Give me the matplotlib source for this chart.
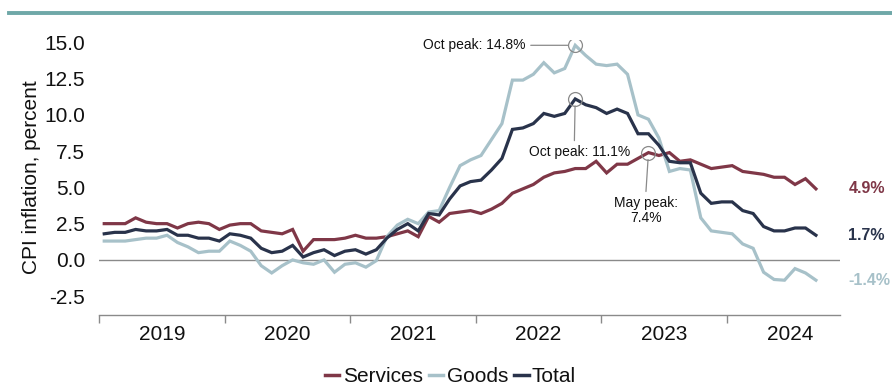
import matplotlib
matplotlib.use("Agg")
import matplotlib.pyplot as plt
from matplotlib import font_manager
from matplotlib.lines import Line2D
import numpy as np

# UK CPI inflation, annual rate (%), monthly Jan 2019 - Sep 2024
services = [
    2.5, 2.5, 2.5, 2.9, 2.6, 2.5, 2.5, 2.2, 2.5, 2.6, 2.5, 2.1,   # 2019
    2.4, 2.5, 2.5, 2.0, 1.9, 1.8, 2.1, 0.6, 1.4, 1.4, 1.4, 1.5,   # 2020
    1.7, 1.5, 1.5, 1.6, 1.8, 2.0, 1.6, 3.0, 2.6, 3.2, 3.3, 3.4,   # 2021
    3.2, 3.5, 3.9, 4.6, 4.9, 5.2, 5.7, 6.0, 6.1, 6.3, 6.3, 6.8,   # 2022
    6.0, 6.6, 6.6, 7.0, 7.4, 7.2, 7.4, 6.8, 6.9, 6.6, 6.3, 6.4,   # 2023
    6.5, 6.1, 6.0, 5.9, 5.7, 5.7, 5.2, 5.6, 4.9,                  # 2024
]
goods = [
    1.3, 1.3, 1.3, 1.4, 1.5, 1.5, 1.7, 1.2, 0.9, 0.5, 0.6, 0.6,
    1.3, 1.0, 0.6, -0.4, -0.9, -0.4, 0.0, -0.2, -0.3, 0.0, -0.85, -0.3,
    -0.2, -0.5, -0.05, 1.6, 2.4, 2.8, 2.5, 3.3, 3.4, 5.0, 6.5, 6.9,
    7.2, 8.3, 9.4, 12.4, 12.4, 12.8, 13.6, 12.9, 13.2, 14.8, 14.1, 13.5,
    13.4, 13.5, 12.8, 10.0, 9.7, 8.4, 6.1, 6.3, 6.2, 2.9, 2.0, 1.9,
    1.8, 1.1, 0.8, -0.85, -1.35, -1.4, -0.6, -0.9, -1.4,
]
total = [
    1.8, 1.9, 1.9, 2.1, 2.0, 2.0, 2.1, 1.7, 1.7, 1.5, 1.5, 1.3,
    1.8, 1.7, 1.5, 0.8, 0.5, 0.6, 1.0, 0.2, 0.5, 0.7, 0.3, 0.6,
    0.7, 0.4, 0.7, 1.5, 2.1, 2.5, 2.0, 3.2, 3.1, 4.2, 5.1, 5.4,
    5.5, 6.2, 7.0, 9.0, 9.1, 9.4, 10.1, 9.9, 10.1, 11.1, 10.7, 10.5,
    10.1, 10.4, 10.1, 8.7, 8.7, 7.9, 6.8, 6.7, 6.7, 4.6, 3.9, 4.0,
    4.0, 3.4, 3.2, 2.3, 2.0, 2.0, 2.2, 2.2, 1.7,
]
years = ["2019", "2020", "2021", "2022", "2023", "2024"]
y_ticks = [-2.5, 0.0, 2.5, 5.0, 7.5, 10.0, 12.5, 15.0]

# Peak call-outs: (series, month index, text)
peaks = [
    ("goods", 45, "Oct peak: 14.8%"),
    ("total", 45, "Oct peak: 11.1%"),
    ("services", 52, "May peak:\n7.4%"),
]

C_SERV = "#7f3747"
C_GOOD = "#a7c1c9"
C_TOT = "#29334b"
C_TEAL = "#6fa8a8"
C_GREY = "#8a8a8a"

available = {f.name for f in font_manager.fontManager.ttflist}
narrow = [f for f in ["Liberation Sans Narrow", "DejaVu Sans Condensed"] if f in available]
NARROW = narrow + ["Liberation Sans", "DejaVu Sans"]
REGULAR = ["Liberation Sans", "DejaVu Sans"]
plt.rcParams["font.family"] = NARROW

fig = plt.figure(figsize=(8.92, 3.89), dpi=100)
ax = fig.add_axes([99 / 892, 74 / 389, 741 / 892, 275.5 / 389])

n = len(total)
x = np.arange(n) + 0.5
series = {"services": services, "goods": goods, "total": total}
colors = {"services": C_SERV, "goods": C_GOOD, "total": C_TOT}
labels = {"services": "Services", "goods": "Goods", "total": "Total"}

ax.axhline(0, color=C_GREY, lw=1.0, zorder=1)
for key in ["services", "goods", "total"]:
    ax.plot(x, series[key], color=colors[key], lw=2.3, label=labels[key],
            solid_joinstyle="miter", zorder=3)

ax.set_xlim(0, 70.8)
ax.set_ylim(-3.8, 15.2)

# axes styling
for s in ["left", "right", "top"]:
    ax.spines[s].set_visible(False)
ax.spines["bottom"].set_color(C_GREY)
ax.spines["bottom"].set_linewidth(1.0)
ax.set_yticks(y_ticks)
ax.set_yticklabels([f"{v:.1f}" for v in y_ticks])
ax.tick_params(axis="y", length=0, pad=10, labelsize=15, labelcolor="#111111")
ax.set_xticks([12 * i for i in range(len(years))])
ax.set_xticklabels([])
ax.set_xticks([12 * i + 6 for i in range(len(years))], minor=True)
ax.set_xticklabels(years, minor=True)
ax.tick_params(axis="x", which="major", length=6, width=1.0, color=C_GREY, direction="out")
ax.tick_params(axis="x", which="minor", length=0, pad=7, labelsize=15, labelcolor="#111111")
ax.set_ylabel("CPI inflation, percent", fontsize=15, color="#111111", labelpad=2)

# peak call-outs
for key, i, txt in peaks:
    v = series[key][i]
    ax.plot(x[i], v, marker="o", ms=10, mfc="none", mec=C_GREY, mew=0.9, zorder=4)
    if key == "goods":
        ax.annotate(txt, xy=(x[i], v), xytext=(-36, 0), textcoords="offset points",
                    ha="right", va="center", fontsize=10, family=REGULAR, color="#111111",
                    arrowprops=dict(arrowstyle="-", color=C_GREY, lw=0.9,
                                    shrinkA=2, shrinkB=5))
    elif key == "total":
        ax.annotate(txt, xy=(x[i], v), xytext=(3, -33), textcoords="offset points",
                    ha="center", va="top", fontsize=10, family=REGULAR, color="#111111",
                    arrowprops=dict(arrowstyle="-", color=C_GREY, lw=0.9,
                                    shrinkA=1, shrinkB=5, relpos=(0.45, 1.0)))
    else:
        ax.annotate(txt, xy=(x[i], v), xytext=(-2, -31), textcoords="offset points",
                    ha="center", va="top", fontsize=10, family=REGULAR, color="#111111",
                    linespacing=1.15,
                    arrowprops=dict(arrowstyle="-", color=C_GREY, lw=0.9,
                                    shrinkA=1, shrinkB=5, relpos=(0.5, 1.0)))

# end-of-series value labels
for key in ["services", "total", "goods"]:
    last = series[key][-1]
    ax.text(71.6, last, f"{last:.1f}%", color=colors[key], fontsize=11.5,
            fontweight="bold", ha="left", va="center", clip_on=False)

# legend
handles = [Line2D([], [], color=colors[k], lw=2.5) for k in ["services", "goods", "total"]]
fig.legend(handles, [labels[k] for k in ["services", "goods", "total"]],
           loc="center", bbox_to_anchor=(0.505, 0.032), ncol=3, frameon=False,
           fontsize=15, handlelength=0.7, handletextpad=0.15, columnspacing=0.3,
           labelcolor="#111111")

# top rule
fig.add_artist(Line2D([9 / 892, 1.0], [1 - 12.5 / 389] * 2, color=C_TEAL, lw=2.8,
                      transform=fig.transFigure))

fig.savefig("out.png", dpi=100)
